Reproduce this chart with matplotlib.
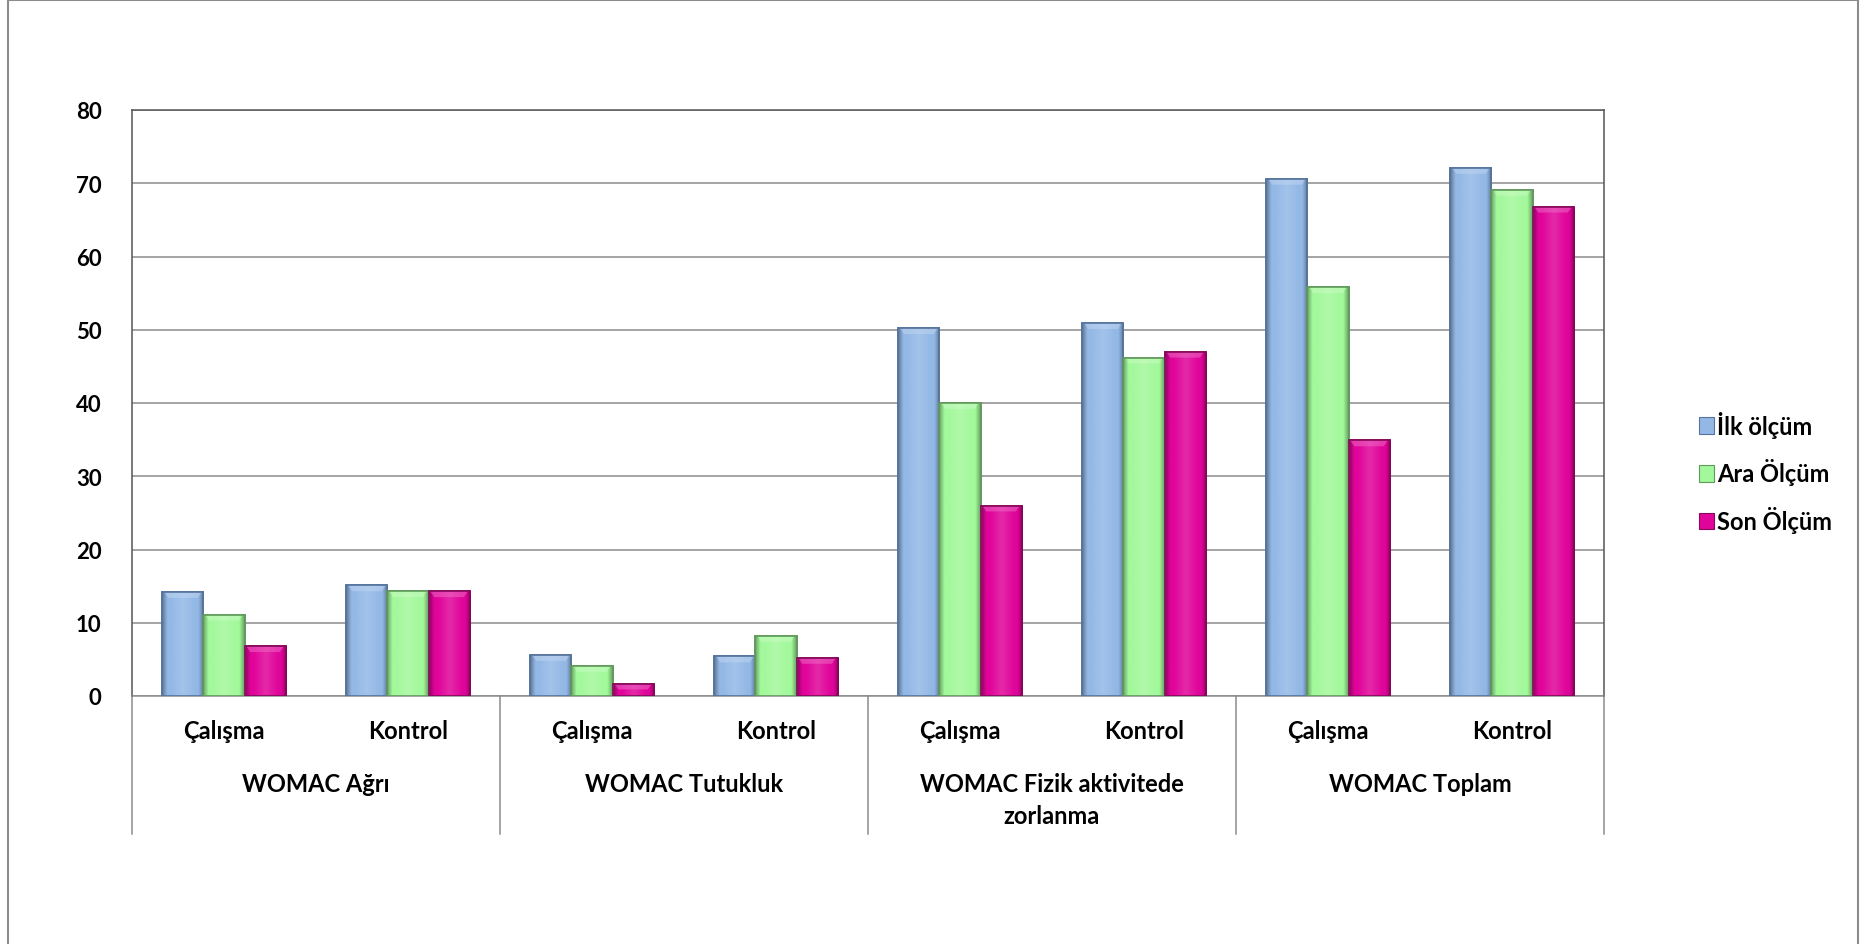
import numpy as np
import matplotlib
matplotlib.use("Agg")
import matplotlib.pyplot as plt
from matplotlib.patches import Patch
from matplotlib.lines import Line2D
from matplotlib.colors import to_rgb

# WOMAC scores by group and measurement time
groups = ["WOMAC Ağrı", "WOMAC Tutukluk", "WOMAC Fizik aktivitede\nzorlanma", "WOMAC Toplam"]
subgroups = ["Çalışma", "Kontrol"]
series = ["İlk ölçüm", "Ara Ölçüm", "Son Ölçüm"]

ilk = [14.2, 15.1, 5.6, 5.4, 50.2, 50.9, 70.6, 72.1]
ara = [11.1, 14.3, 4.1, 8.2, 40.0, 46.2, 55.8, 69.1]
son = [6.8, 14.3, 1.7, 5.2, 26.0, 47.0, 34.9, 66.8]

yticks = [0, 10, 20, 30, 40, 50, 60, 70, 80]

FILLS = ["#93b8e6", "#a2f89a", "#e0049a"]
EDGES = ["#55739c", "#5f9a5a", "#85085a"]
GRID = "#8c8c8c"
INK = "#000000"

FONT = "Lato"
plt.rcParams["font.family"] = [FONT, "DejaVu Sans"]

W, H = 1863, 945
fig = plt.figure(figsize=(W / 100, H / 100), dpi=100)
fig.patch.set_facecolor("white")

# plot area in pixel terms
left, right, top, bottom = 132, 1604, 111, 697
ax = fig.add_axes([left / W, 1 - bottom / H, (right - left) / W, (bottom - top) / H])


def shade(color, t):
    """Horizontal bevel shading across a bar; t in [0, 1]."""
    base = np.array(to_rgb(color))
    d = np.abs(2 * t - 1)
    dark = np.clip(d - 0.75, 0, None) / 0.25
    light = np.clip(1 - d / 0.6, 0, 1) * 0.15
    rgb = base[None, :] * (1 - 0.35 * dark[:, None]) + light[:, None] * (1 - base[None, :])
    return np.clip(rgb, 0, 1)


x = np.arange(len(ilk))
width = 0.223
for i, (vals, fc, ec) in enumerate(zip([ilk, ara, son], FILLS, EDGES)):
    bars = ax.bar(x + (i - 1) * width, vals, width, color=fc, edgecolor=ec,
                  linewidth=1.2, zorder=3, label=series[i])
    t = np.linspace(0, 1, 60)
    grad = shade(fc, t)[None, :, :]
    for b in bars:
        x0, w, h = b.get_x(), b.get_width(), b.get_height()
        im = ax.imshow(grad, extent=(x0, x0 + w, 0, h), aspect="auto",
                       zorder=3.5, interpolation="bilinear")
        im.set_clip_path(b)
        # soft lighter cap at the top of each bar
        cap = min(0.8, h * 0.5)
        top_rgb = np.array(to_rgb(fc)) * 0.6 + 0.4
        ax.fill([x0 + w * 0.04, x0 + w * 0.96, x0 + w * 0.86, x0 + w * 0.14],
                [h, h, h - cap, h - cap], color=top_rgb, alpha=0.55,
                zorder=3.6, lw=0)
        ax.bar(x0 + w / 2, h, w, fill=False, edgecolor=ec, linewidth=1.2, zorder=3.8)

ax.set_xlim(-0.5, len(ilk) - 0.5)
ax.set_ylim(0, 80)
ax.set_yticks(yticks)
ax.set_yticklabels([str(v) for v in yticks], fontsize=16, fontweight="bold", color=INK)
ax.tick_params(axis="y", length=0, pad=22)
ax.set_xticks([])
ax.yaxis.grid(True, color=GRID, linewidth=1.1, zorder=0)
ax.set_axisbelow(True)
for s in ax.spines.values():
    s.set_color("#555555")
    s.set_linewidth(1.1)
ax.spines["bottom"].set_color(GRID)

# two-level category axis
tr = ax.get_xaxis_transform()
axh = bottom - top
for k, xi in enumerate(x):
    ax.text(xi, -35 / axh, subgroups[k % 2], transform=tr, ha="center", va="center",
            fontsize=17, fontweight="bold", color=INK)
for g, name in enumerate(groups):
    ax.text(2 * g + 0.5, -76 / axh, name, transform=tr, ha="center", va="top",
            fontsize=17, fontweight="bold", color=INK, linespacing=1.45)
for xd in np.arange(-0.5, len(ilk), 2):
    ax.add_line(Line2D([xd, xd], [0, -138 / axh], transform=tr, color=GRID,
                       linewidth=1.1, clip_on=False))

# legend
handles = [Patch(facecolor=fc, edgecolor=ec, linewidth=0.8) for fc, ec in zip(FILLS, EDGES)]
leg = fig.legend(handles, series, loc="center left", bbox_to_anchor=(1690 / W, 1 - 473 / H),
                 frameon=False, handlelength=0.6, handleheight=0.7, handletextpad=0.15,
                 labelspacing=0.88, borderaxespad=0,
                 prop={"family": FONT, "weight": "bold", "size": 17})

# outer chart frame
for xs, ys in [([8, 8], [0, H]), ([8, 1858], [1, 1]), ([1858, 1858], [1, H])]:
    fig.add_artist(Line2D([v / W for v in xs], [1 - v / H for v in ys],
                          color="#8c8c8c", linewidth=1.5))

fig.savefig("out.png", dpi=100)
